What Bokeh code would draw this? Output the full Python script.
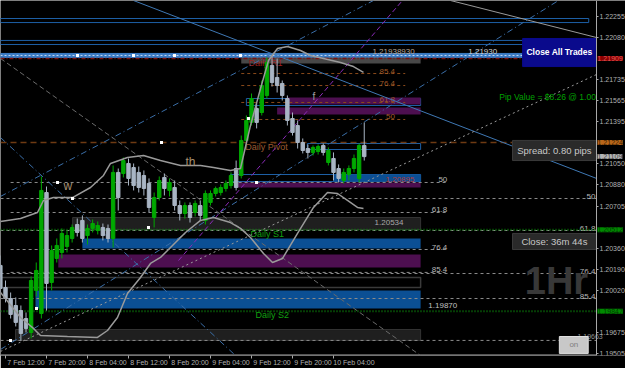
from bokeh.plotting import figure
from bokeh.models import Range1d, FixedTicker, Label, PrintfTickFormatter, AllLabels, ColumnDataSource, LinearAxis
from bokeh.core.properties import value
from bokeh.embed import file_html
from bokeh.resources import INLINE

# ---------------- data ----------------
hours = list(range(72))  # hour 0 = 7 Feb 11:00
opens = [1.20221,1.20041,1.19951,1.19894,1.19853,1.19788,1.19674,1.20017,1.19829,1.20816,
 1.20082,1.20278,1.20327,1.20376,1.20441,1.20555,1.20588,1.20465,1.20523,1.20506,
 1.20531,1.20523,1.20441,1.20980,1.20971,1.21053,1.21020,1.20980,1.20955,1.20890,
 1.20612,1.20775,1.20939,1.20833,1.20857,1.20710,1.20645,1.20710,1.20653,1.20710,
 1.20588,1.20735,1.20808,1.20816,1.20849,1.20873,1.21012,1.20955,1.21241,1.21388,
 1.21502,1.21469,1.21608,1.21853,1.21755,1.21706,1.21583,1.21420,1.21363,1.21224,
 1.21175,1.21143,1.21151,1.21200,1.21061,1.21094,1.21012,1.20914,1.20963,1.21012,
 1.20931,1.21200]
highs = [1.20302,1.20098,1.20000,1.19960,1.19894,1.19837,1.20131,1.20245,1.20947,1.20865,
 1.20384,1.20441,1.20523,1.20506,1.20555,1.20604,1.20629,1.20555,1.20596,1.20580,
 1.20563,1.20555,1.21037,1.21012,1.21102,1.21094,1.21053,1.21028,1.20996,1.20931,
 1.20816,1.20947,1.20971,1.20931,1.20914,1.20751,1.20735,1.20735,1.20751,1.20751,
 1.20833,1.20833,1.20865,1.20882,1.20914,1.20980,1.21077,1.21281,1.21445,1.21624,
 1.21543,1.21730,1.21918,1.21934,1.21910,1.21730,1.21608,1.21469,1.21404,1.21257,
 1.21208,1.21200,1.21208,1.21216,1.21184,1.21143,1.21045,1.21012,1.21037,1.21126,
 1.21216,1.21388]
lows = [1.20000,1.19919,1.19788,1.19723,1.19609,1.19674,1.19625,1.19968,1.19788,1.19853,
 1.20017,1.20245,1.20278,1.20327,1.20408,1.20457,1.20408,1.20392,1.20490,1.20474,
 1.20425,1.20408,1.20367,1.20669,1.20939,1.20873,1.20833,1.20816,1.20792,1.20653,
 1.20531,1.20751,1.20792,1.20784,1.20669,1.20588,1.20604,1.20571,1.20620,1.20588,
 1.20555,1.20710,1.20784,1.20792,1.20824,1.20849,1.20833,1.20931,1.21200,1.21363,
 1.21339,1.21445,1.21583,1.21681,1.21632,1.21567,1.21363,1.21281,1.21175,1.21135,
 1.21094,1.21118,1.21126,1.21118,1.21037,1.20914,1.20898,1.20890,1.20914,1.20980,
 1.20898,1.21077]
closes = [1.20033,1.19951,1.19821,1.19756,1.19666,1.19707,1.20098,1.20180,1.20833,1.20074,
 1.20343,1.20384,1.20482,1.20465,1.20531,1.20490,1.20441,1.20523,1.20563,1.20547,
 1.20465,1.20441,1.20980,1.20775,1.21077,1.20931,1.20873,1.20857,1.20849,1.20694,
 1.20775,1.20914,1.20849,1.20898,1.20710,1.20645,1.20710,1.20612,1.20727,1.20629,
 1.20808,1.20808,1.20849,1.20857,1.20890,1.20955,1.20857,1.21241,1.21404,1.21583,
 1.21388,1.21689,1.21877,1.21714,1.21689,1.21608,1.21404,1.21306,1.21224,1.21159,
 1.21143,1.21184,1.21192,1.21143,1.21159,1.20980,1.20931,1.20980,1.21012,1.21094,
 1.21200,1.21109]

# envelope curves (hour, price)
upper_h = [0.02,3.93,7.24,8.41,10.37,14.07,17.59,20.12,21.49,24.8,27.93,31.24,35.15,39.05,41.59,44.9,46.85,48.8,50.76,52.32,54.07,56.02,58.56,60.51,63.05,66.37,68.9,70.85]
upper_p = [1.20580,1.20604,1.20653,1.20751,1.20775,1.20775,1.20857,1.20955,1.21053,1.21102,1.21118,1.21077,1.21037,1.21037,1.21020,1.20996,1.21012,1.21363,1.21665,1.21893,1.21991,1.22008,1.21975,1.21934,1.21910,1.21877,1.21844,1.21796]
lower_h = [0.02,3.93,6.46,7.83,13.1,18.95,20.9,22.85,24.8,27.34,29.29,31.24,32.61,36.12,39.05,41.59,44.9,46.85,48.8,51.34,53.1,55.05,57.98,61.1,63.83,65.78,67.73,69.68,70.85]
lower_p = [1.20000,1.19796,1.19707,1.19649,1.19641,1.19633,1.19690,1.19796,1.19992,1.20123,1.20237,1.20286,1.20343,1.20490,1.20588,1.20612,1.20571,1.20523,1.20449,1.20319,1.20245,1.20278,1.20482,1.20694,1.20816,1.20808,1.20751,1.20694,1.20686]

# zones
blue_left = [16.0, 6.85, 65.0]
blue_right = [82.0, 82.0, 82.0]
blue_top = [1.20441, 1.20017, 1.20963]
blue_bottom = [1.20359, 1.19870, 1.20906]

mag_left = [56.0, 54.0, 46.0, 11.3]
mag_right = [82.0, 82.0, 82.0, 82.0]
mag_top = [1.21592, 1.21510, 1.20898, 1.20310]
mag_bottom = [1.21534, 1.21453, 1.20857, 1.20204]

dark_left = [14.1, 2.95]
dark_right = [82.0, 82.0]
dark_top = [1.20612, 1.19698]
dark_bottom = [1.20514, 1.19609]

box_left = [0.02, 0.02, 48.0, 59.9, 44.9]
box_right = [114.8, 114.8, 82.0, 82.0, 82.0]
box_top = [1.22236, 1.22057, 1.21583, 1.21216, 1.20963]
box_bottom = [1.22203, 1.22024, 1.21526, 1.21167, 1.20906]

band_price = [1.21951, 1.21918]      # light blue band
grayband_price = [1.21918, 1.21869]  # gray band under it
outline_price = [1.20123, 1.20041]

# daily levels
level_names = ["Daily R1", "Daily Pivot", "Daily S1", "Daily S2"]
level_prices = [1.21909, 1.21224, 1.20512, 1.19847]

fib_up_prices = [1.21787, 1.21689, 1.21551, 1.21412]
fib_up_labels = ["85.4", "76.4", "61.8", "50"]
fib_lo_prices = [1.20898, 1.20653, 1.20351, 1.20164]
fib_lo_labels = ["50", "61.8", "76.4", "85.4"]
fib_r_prices = [1.20767, 1.20506, 1.20155, 1.19951]
fib_r_labels = ["50", "61.8", "76.4", "85.4"]

# trendlines (x0, y0, x1, y1)
tl_blue_solid = [(25.98, 1.22383, 116.32, 1.20931)]
tl_gray_solid = [(87.83, 1.22383, 116.32, 1.22081)]
tl_blue_dash = [(0.02, 1.20784, 72.8, 1.22383), (0.02, 1.19535, 108.9, 1.22383), (0.02, 1.21265, 45.88, 1.19486)]
tl_white_dot = [(0.02, 1.19519, 116.32, 1.21779)]
tl_gray_dash = [(0.02, 1.21910, 81.98, 1.19486)]
tl_magenta = [(34.76, 1.20261, 78.46, 1.22383)]

marker_h = [15.05, 25.98, 33.98, 46.85, 11.15, 14.07, 7.05, 1.98, 48.41, 49.98, 28.9, 31.44]
marker_p = [1.21934, 1.21934, 1.21934, 1.21934, 1.20898, 1.20767, 1.19870, 1.19609, 1.21420, 1.20898, 1.20531, 1.21224]

tick_hours = [1, 9, 17, 25, 33, 41, 49, 57, 65]
tick_labels = ["7 Feb 12:00", "7 Feb 20:00", "8 Feb 04:00", "8 Feb 12:00", "8 Feb 20:00",
               "9 Feb 04:00", "9 Feb 12:00", "9 Feb 20:00", "10 Feb 04:00"]
axis_prices = [1.22255, 1.22080, 1.21735, 1.21565, 1.21395, 1.21050, 1.20880, 1.20705,
               1.20360, 1.20190, 1.20020, 1.19675, 1.19505]
tag_prices = [1.21909, 1.21224, 1.21109, 1.20512, 1.19847]
tag_kinds = ["r1", "pivot", "bid", "s1", "s2"]

# ---------------- figure ----------------
X0, X1 = 0.024, 116.32          # chart area (left edge .. price scale)
XW = 121.976                    # window right edge, same hour scale
Y0, Y1 = 1.19486, 1.22383
FONT = "Liberation Sans"

p = figure(frame_width=625, frame_height=355, x_range=Range1d(X0, XW), y_range=Range1d(Y0, Y1),
           y_axis_location="right", x_axis_location=None, output_backend="svg", toolbar_location=None,
           min_border_left=0, min_border_top=0, min_border_right=0, min_border_bottom=0)
p.background_fill_color = "black"
p.border_fill_color = "black"
p.outline_line_color = None
p.grid.visible = False

# time axis: tick marks on one axis, labels (placed just right of each tick) on a second one
ax_ticks = LinearAxis(ticker=FixedTicker(ticks=tick_hours),
                      major_label_overrides={h: "" for h in tick_hours},
                      major_label_text_font_size="1px", major_label_standoff=0,
                      axis_line_color=None, major_tick_line_color="#a8a8a8",
                      minor_tick_line_color=None, major_tick_in=0, major_tick_out=3)
label_pos = [h + 4 for h in tick_hours]
ax_labels = LinearAxis(ticker=FixedTicker(ticks=label_pos),
                       major_label_overrides={h: t for h, t in zip(label_pos, tick_labels)},
                       major_label_text_font_size="7px", major_label_text_font=FONT,
                       major_label_text_color="#b0b0b0", major_label_standoff=0,
                       major_label_policy=AllLabels(),
                       axis_line_color=None, major_tick_line_color=None,
                       minor_tick_line_color=None, major_tick_in=0, major_tick_out=0)
p.add_layout(ax_ticks, "below")
p.add_layout(ax_labels, "below")

# price scale drawn at the chart's right edge
ay = p.yaxis[0]
ay.fixed_location = X1
ay.axis_line_color = "#a8a8a8"
ay.major_tick_line_color = "#a8a8a8"
ay.minor_tick_line_color = None
ay.major_tick_in = 0
ay.major_tick_out = 2
ay.major_label_text_color = "#b0b0b0"
ay.major_label_text_font = FONT
ay.major_label_policy = AllLabels()
ay.ticker = FixedTicker(ticks=axis_prices)
ay.formatter = PrintfTickFormatter(format="%.5f")
ay.major_label_text_font_size = "7px"
ay.major_label_standoff = 1

# bottom edge line of the chart area
p.segment(x0=[X0], y0=[Y0], x1=[X1], y1=[Y0], line_color="#a8a8a8", line_width=2)

# zones
p.quad(left=box_left, right=box_right, top=box_top, bottom=box_bottom,
       fill_color=None, line_color="#1d5fa5", line_width=1)
p.quad(left=[X0], right=[114.8], top=[band_price[0]], bottom=[band_price[1]],
       fill_color="#3b7cc4", line_color="#3b7cc4")
p.segment(x0=[X0], y0=[(band_price[0] + band_price[1]) / 2], x1=[114.8], y1=[(band_price[0] + band_price[1]) / 2],
          line_color="#c8d8f0", line_dash="2 2", line_width=1)
p.quad(left=[47.0], right=[82.0], top=[grayband_price[0]], bottom=[grayband_price[1]],
       fill_color="#5a5a5a", line_color=None, fill_alpha=0.8)
p.quad(left=mag_left, right=mag_right, top=mag_top, bottom=mag_bottom,
       fill_color="#4d0f50", line_color=None)
p.quad(left=blue_left, right=blue_right, top=blue_top, bottom=blue_bottom,
       fill_color="#0b4f94", line_color=None)
p.quad(left=dark_left, right=dark_right, top=dark_top, bottom=dark_bottom,
       fill_color="#1f1f1f", line_color="#333333")
p.quad(left=[X0], right=[82.0], top=[outline_price[0]], bottom=[outline_price[1]],
       fill_color=None, line_color="#3a3a3a", line_width=1.5)

# fib lines
n = len(fib_up_prices)
p.segment(x0=[47.0] * n, y0=fib_up_prices, x1=[79.0] * n, y1=fib_up_prices,
          line_color="#8a4a1a", line_dash="3 3", line_width=1)
p.text(x=[77.0] * n, y=fib_up_prices, text=fib_up_labels, text_color="#a05a28",
       text_font=value(FONT), text_font_size="8px", text_align="right", text_baseline="bottom")
n = len(fib_lo_prices)
p.segment(x0=[2.0] * n, y0=fib_lo_prices, x1=[87.4] * n, y1=fib_lo_prices,
          line_color="#8c8c8c", line_dash="3 3", line_width=1)
p.text(x=[87.2] * n, y=fib_lo_prices, text=fib_lo_labels, text_color="#b8b8b8",
       text_font=value(FONT), text_font_size="8px", text_align="right", text_baseline="bottom")
n = len(fib_r_prices)
p.segment(x0=[X0] * n, y0=fib_r_prices, x1=[X1] * n, y1=fib_r_prices,
          line_color="#8c8c8c", line_dash="3 3", line_width=1)
p.text(x=[116.1] * n, y=fib_r_prices, text=fib_r_labels, text_color="#b8b8b8",
       text_font=value(FONT), text_font_size="8px", text_align="right", text_baseline="bottom")
p.segment(x0=[X0], y0=[1.19609], x1=[X1], y1=[1.19609], line_color="#8c8c8c", line_dash="3 3")

# daily levels
p.segment(x0=[X0], y0=[level_prices[0]], x1=[X1], y1=[level_prices[0]],
          line_color="#7a1010", line_dash="4 2 1 2", line_width=1.5)
p.segment(x0=[X0], y0=[level_prices[1]], x1=[X1], y1=[level_prices[1]],
          line_color="#6e3a12", line_dash="6 4", line_width=1.5)
p.segment(x0=[X0, X0], y0=level_prices[2:], x1=[X1, X1], y1=level_prices[2:],
          line_color="#0a7a0a", line_dash="1 2", line_width=2)
p.text(x=[48.4, 47.8, 48.8, 49.8], y=[1.21869, 1.21184, 1.20474, 1.19813], text=level_names,
       text_color=["#9a2020", "#9a5a30", "#10a010", "#10a010"],
       text_font=value(FONT), text_font_size="9px", text_align="left", text_baseline="middle")

# trendlines
def seg(lst, **kw):
    p.segment(x0=[s[0] for s in lst], y0=[s[1] for s in lst],
              x1=[s[2] for s in lst], y1=[s[3] for s in lst], **kw)

seg(tl_blue_solid, line_color="#3f78b4", line_width=1)
seg(tl_gray_solid, line_color="#9a9a9a", line_width=1)
seg(tl_blue_dash, line_color="#3a6ea8", line_dash="6 3 1 3", line_width=1)
seg(tl_white_dot, line_color="#9a9a9a", line_dash="2 3", line_width=1)
seg(tl_gray_dash, line_color="#6a6a6a", line_dash="5 3", line_width=1)
seg(tl_magenta, line_color="#8a2ab8", line_dash="5 3", line_width=1)

# candles
up = [c >= o for o, c in zip(opens, closes)]
colors = ["#00a800" if u else "#a9b5c4" for u in up]
src = ColumnDataSource(dict(x=hours, h=highs, l=lows,
                            top=[max(o, c) for o, c in zip(opens, closes)],
                            bot=[min(o, c) for o, c in zip(opens, closes)], col=colors))
p.segment(x0="x", y0="h", x1="x", y1="l", line_color="col", line_width=1, source=src)
p.vbar(x="x", width=0.66, top="top", bottom="bot", fill_color="col", line_color="col", source=src)

# envelope curves
p.line(upper_h, upper_p, line_color="#9a9a9a", line_width=1.5)
p.line(lower_h, lower_p, line_color="#9a9a9a", line_width=1.5)

p.scatter(marker_h, marker_p, marker="square", size=3, fill_color="white", line_color=None)

# misc chart texts
p.text(x=[12.3, 36.1], y=[1.20873, 1.21069], text=["w", "th"], text_color="#a89070",
       text_font=value(FONT), text_font_size="12px", text_align="left", text_baseline="middle")
p.text(x=[60.9], y=[1.21600], text=["f"], text_color="#a0a0a0",
       text_font=value(FONT), text_font_size="10px", text_align="left", text_baseline="middle")
p.text(x=[78.66], y=[1.20571], text=["1.20534"], text_color="#a8a8a8",
       text_font=value(FONT), text_font_size="8px", text_align="right", text_baseline="middle")
p.text(x=[75.15], y=[1.20922], text=["1.20895"], text_color="#b03a3a",
       text_font=value(FONT), text_font_size="8px", text_align="left", text_baseline="middle")
p.text(x=[83.5], y=[1.19894], text=["1.19870"], text_color="#c0c0c0",
       text_font=value(FONT), text_font_size="8px", text_align="left", text_baseline="middle")
p.text(x=[72.6], y=[1.21965], text=["1.21938930"], text_color="#b8a898",
       text_font=value(FONT), text_font_size="8px", text_align="left", text_baseline="middle")
p.text(x=[91.3], y=[1.21965], text=["1.21930"], text_color="#d0d0d0",
       text_font=value(FONT), text_font_size="8px", text_align="left", text_baseline="middle")
p.text(x=[112.6], y=[1.19640], text=["1.19663"], text_color="#909090",
       text_font=value(FONT), text_font_size="7px", text_align="left", text_baseline="middle")

# panels
p.quad(left=[101.9], right=[X1], top=[1.22073], bottom=[1.21844], fill_color="#0a0a8c", line_color="#0a0a8c")
p.text(x=[109.1], y=[1.21959], text=["Close All Trades"], text_color="white",
       text_font=value(FONT), text_font_size="8.5px", text_font_style="bold",
       text_align="center", text_baseline="middle")
p.text(x=[116.2], y=[1.21592], text=["Pip Value = $8.26 @ 1.00"], text_color="#00a000",
       text_font=value(FONT), text_font_size="8.5px", text_align="right", text_baseline="middle")
p.quad(left=[99.93, 99.93], right=[X1, X1], top=[1.21241, 1.20482], bottom=[1.21077, 1.20351],
       fill_color="#2a2a2a", line_color="#3a3a3a")
p.text(x=[108.1, 108.1], y=[1.21159, 1.20416], text=["Spread: 0.80 pips", "Close: 36m 44s"],
       text_color="#c8c8c8", text_font=value(FONT), text_font_size="9.5px",
       text_align="center", text_baseline="middle")
p.text(x=[108.5], y=[1.20090], text=["1Hr"], text_color="#383838",
       text_font=value(FONT), text_font_size="38px", text_font_style="bold",
       text_align="center", text_baseline="middle")
p.quad(left=[109.07], right=[114.7], top=[1.19641], bottom=[1.19503], fill_color="#c8c8c8", line_color="#e0e0e0")
p.text(x=[111.9], y=[1.19572], text=["on"], text_color="#808080",
       text_font=value(FONT), text_font_size="8px", text_align="center", text_baseline="middle")

# colored price tags on the price scale
tag_style = {"r1": ("#8b0000", "#e05a5a"), "pivot": ("#b8661a", "#3a1e00"),
             "bid": ("#b4b4b4", "#404040"), "s1": ("#008a00", "#003a00"), "s2": ("#008a00", "#003a00")}
for pr, kind in zip(tag_prices, tag_kinds):
    bg, fg = tag_style[kind]
    p.add_layout(Label(x=X1, y=pr, x_offset=1, text="%.5f" % pr, text_color=fg,
                       text_font=FONT, text_font_size="7px", text_baseline="middle",
                       text_align="left", background_fill_color=bg, level="overlay"))

open("out.html", "w").write(file_html(p, INLINE))
